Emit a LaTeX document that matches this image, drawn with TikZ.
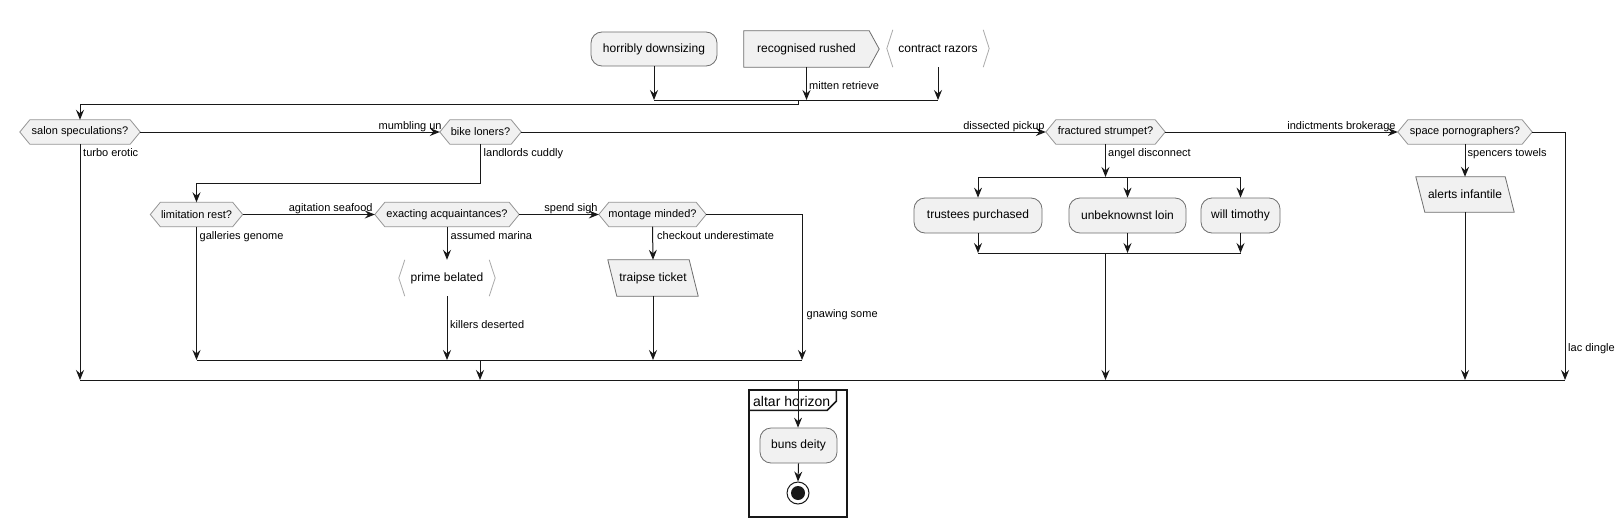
\documentclass[tikz,border=0pt]{standalone}
\usepackage{fontspec}
\setmainfont{Liberation Sans}
\usetikzlibrary{arrows.meta,calc,backgrounds}
\definecolor{linec}{HTML}{181818}
\definecolor{boxfill}{HTML}{F1F1F1}
\definecolor{boxline}{HTML}{6E6E6E}
\definecolor{hexline}{HTML}{959595}
\definecolor{brkline}{HTML}{AAAAAA}
\newcommand\fsS{\fontsize{11}{13}\selectfont}
\newcommand\fsM{\fontsize{12}{14}\selectfont}
\newcommand\fsL{\fontsize{14}{16}\selectfont}
\tikzset{
  conn/.style={draw=linec, line width=1pt},
  arr/.style={conn, -{Stealth[length=10pt,width=8pt,inset=3.5pt]}},
  rbox/.style={draw=boxline, fill=boxfill, line width=0.8pt, rounded corners=11pt, inner sep=0pt, font=\fsM, minimum height=35pt},
  hexn/.style={inner sep=0pt, minimum height=24pt, font=\fsS},
  plainn/.style={inner sep=0pt, font=\fsM},
  lbl/.style={inner sep=0pt, font=\fsS},
  hexpath/.style={draw=hexline, fill=boxfill, line width=0.8pt},
  parpath/.style={draw=boxline, fill=boxfill, line width=0.8pt},
  brkpath/.style={draw=brkline, line width=0.8pt},
}
\begin{document}
\begin{tikzpicture}[x=1pt, y=-1pt]
\useasboundingbox (0,0) rectangle (1624,527);

% ---- top row
\node[rbox, minimum width=126pt, minimum height=34pt] (hd) at (654,49) {horribly downsizing};
\node[plainn, minimum width=125pt, minimum height=36pt] (rr) at (806.5,49) {recognised rushed};
\node[plainn, minimum width=102pt, minimum height=37pt] (cr) at (938,48.5) {contract razors};

% ---- decisions
\node[hexn, minimum width=120pt] (salon) at (80,132) {salon speculations?};
\node[hexn, minimum width=81pt] (bike) at (480.5,132) {bike loners?};
\node[hexn, minimum width=119pt] (frac) at (1105.5,132) {fractured strumpet?};
\node[hexn, minimum width=134pt] (space) at (1465,132) {space pornographers?};
\node[hexn, minimum width=92pt] (lim) at (196.5,214.5) {limitation rest?};
\node[hexn, minimum width=144pt] (exa) at (447,214.5) {exacting acquaintances?};
\node[hexn, minimum width=107pt] (mon) at (652.5,214.5) {montage minded?};

% ---- activities
\node[plainn, minimum width=96pt, minimum height=36pt] (prime) at (447,278) {prime belated};
\node[plainn, minimum width=90pt, minimum height=36pt] (traipse) at (653,278) {traipse ticket};
\node[rbox, minimum width=128pt] (trus) at (978,215.5) {trustees purchased};
\node[rbox, minimum width=117pt] (unb) at (1127.5,215.5) {unbeknownst loin};
\node[rbox, minimum width=79pt] (tim) at (1240.5,215.5) {will timothy};
\node[plainn, minimum width=98pt, minimum height=35pt] (alerts) at (1465,194.5) {alerts infantile};

% ---- frame
\node[draw=linec, line width=1.5pt, minimum width=98pt, minimum height=127pt, inner sep=0pt] (frame) at (798,453.5) {};
\draw[linec, line width=1.5pt] (frame.north west) ++(0,21) -- ++(79,0) -- ++(9,-9) -- ++(0,-12);
\node[inner sep=0pt, font=\fsL, anchor=base west] (ftitle) at (753,406) {altar horizon};
\node[rbox, minimum width=77pt] (buns) at (798.5,445.5) {buns deity};
\node[circle, draw=linec, fill=white, line width=1pt, minimum size=22pt, inner sep=0pt] (endn) at (798,493) {};
\fill[linec] (endn.center) circle (7pt);

% ---- background shapes
\begin{scope}[on background layer]
  \fill[white] (0,0) rectangle (1624,527);
  \foreach \n in {salon,bike,frac,space,lim,exa,mon} {
    \filldraw[hexpath] (\n.west) -- ($(\n.north west)+(10,0)$) -- ($(\n.north east)+(-10,0)$) -- (\n.east) -- ($(\n.south east)+(-10,0)$) -- ($(\n.south west)+(10,0)$) -- cycle;
  }
  \filldraw[parpath] (rr.north west) -- (rr.north east) -- ($(rr.east)+(10,0)$) -- (rr.south east) -- (rr.south west) -- cycle;
  \foreach \n in {traipse,alerts} {
    \filldraw[parpath] (\n.north west) -- ($(\n.north east)+(-9,0)$) -- (\n.south east) -- ($(\n.south west)+(9,0)$) -- cycle;
  }
  \foreach \n in {cr,prime} {
    \draw[brkpath] ($(\n.north west)+(6,0)$) -- (\n.west) -- ($(\n.south west)+(6,0)$);
    \draw[brkpath] ($(\n.north east)+(-6,0)$) -- (\n.east) -- ($(\n.south east)+(-6,0)$);
  }
\end{scope}

% ---- junction coordinates
\coordinate (t1) at (654,100);
\coordinate (t2) at (938,100);
\coordinate (tout) at (798,100);
\coordinate (ib1) at (196.5,360);
\coordinate (ib2) at (802,360);
\coordinate (ibout) at (480,360);
\coordinate (f1) at (978,177);
\coordinate (f2) at (1240.5,177);
\coordinate (j1) at (978,253);
\coordinate (j2) at (1240.5,253);
\coordinate (bb1) at (80,380);
\coordinate (bb2) at (1565,380);
\coordinate (bbout) at (798,380);

% ---- top merge
\draw[arr] (hd.south) -- (hd.south |- t1);
\draw[arr] (rr.south) -- (rr.south |- t1);
\draw[arr] (cr.south) -- (cr.south |- t2);
\draw[conn] (t1) -- (t2);
\draw[arr] (tout) -- ++(0,4) -| (salon.north);
\node[lbl, anchor=base west] (l1) at (809,89) {mitten retrieve};

% ---- main decision chain
\draw[arr] (salon.east) -- (bike.west);
\node[lbl, anchor=base east] (l2) at ($(bike.west)+(2,-3)$) {mumbling un};
\draw[arr] (bike.east) -- (frac.west);
\node[lbl, anchor=base east] (l3) at ($(frac.west)+(-1,-3)$) {dissected pickup};
\draw[arr] (frac.east) -- (space.west);
\node[lbl, anchor=base east] (l4) at ($(space.west)+(-2,-3)$) {indictments brokerage};

\draw[arr] (salon.south) -- (salon.south |- bb1);
\node[lbl, anchor=base west] (l5) at (83,156.5) {turbo erotic};

\draw[arr] (bike.south) -- ++(0,39) -| (lim.north);
\node[lbl, anchor=base west] (l6) at (483.5,156.5) {landlords cuddly};

% ---- inner chain
\draw[arr] (lim.east) -- (exa.west);
\node[lbl, anchor=base east] (l7) at ($(exa.west)+(-2,-3)$) {agitation seafood};
\draw[arr] (exa.east) -- (mon.west);
\node[lbl, anchor=base east] (l8) at ($(mon.west)+(-1,-3)$) {spend sigh};

\draw[arr] (lim.south) -- (lim.south |- ib1);
\node[lbl, anchor=base west] (l9) at (199.5,239) {galleries genome};
\draw[arr] (exa.south) -- (prime.north);
\node[lbl, anchor=base west] (l10) at (450.5,239) {assumed marina};
\draw[arr] (prime.south) -- (prime.south |- ib1);
\node[lbl, anchor=base west] (l11) at (450,328.5) {killers deserted};
\draw[arr] (mon.south) -- (traipse.north);
\node[lbl, anchor=base west] (l12) at (657,239) {checkout underestimate};
\draw[arr] (traipse.south) -- (traipse.south |- ib1);
\draw[arr] (mon.east) -| (ib2);
\node[lbl, anchor=base west] (l13) at (806.5,317.5) {gnawing some};
\draw[conn] (ib1) -- (ib2);
\draw[arr] (ibout) -- (ibout |- bb1);

% ---- fork
\draw[arr] (frac.south) -- (frac.south |- f1);
\node[lbl, anchor=base west] (l14) at (1108,156.5) {angel disconnect};
\draw[conn] (f1) -- (f2);
\draw[arr] (f1) -- (trus.north);
\draw[arr] (unb.north |- f1) -- (unb.north);
\draw[arr] (f2) -- (tim.north);
\draw[arr] (trus.south) -- (trus.south |- j1);
\draw[arr] (unb.south) -- (unb.south |- j1);
\draw[arr] (tim.south) -- (tim.south |- j2);
\draw[conn] (j1) -- (j2);
\draw[arr] (frac.south |- j1) -- (frac.south |- bb1);

% ---- space branch
\draw[arr] (space.south) -- (alerts.north);
\node[lbl, anchor=base west] (l15) at (1467.5,156.5) {spencers towels};
\draw[arr] (alerts.south) -- (alerts.south |- bb1);
\draw[arr] (space.east) -| (bb2);
\node[lbl, anchor=base west] (l16) at (1568,351.5) {lac dingle};

% ---- big merge
\draw[conn] (bb1) -- (bb2);
\draw[arr] (bbout) -- (bbout |- buns.north);
\draw[arr] (buns.south) -- (endn.north);
\end{tikzpicture}
\end{document}
